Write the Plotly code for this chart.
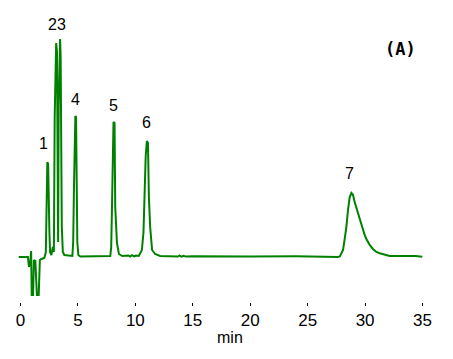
import plotly.graph_objects as go

# Chromatogram trace (time in min, signal in arbitrary units)
time_min = [
    -0.15, 0.65, 0.74, 0.85, 0.93, 0.98, 1.10, 1.17, 1.30, 1.43, 1.59, 1.69, 1.82, 2.08,
    2.21, 2.28, 2.34, 2.41, 2.46, 2.52, 2.58, 2.69, 2.82, 2.91,
    2.98, 3.04, 3.11, 3.18, 3.23, 3.28, 3.33, 3.39, 3.45, 3.50, 3.55, 3.60, 3.69, 3.82,
    4.52, 4.59, 4.66, 4.73, 4.78, 4.84, 4.90, 4.95, 5.04, 5.21,
    7.82, 7.90, 7.96, 8.03, 8.10, 8.19, 8.25, 8.40, 8.57, 8.86,
    9.40, 9.55, 9.70, 9.90, 10.05, 10.30,
    10.57, 10.71, 10.81, 10.90, 11.00, 11.10, 11.18, 11.29, 11.46, 11.72, 12.16,
    13.70, 13.85, 14.00, 14.20, 14.40, 15.00, 17.00, 20.00, 24.00, 25.00, 27.62,
    27.80, 28.08, 28.23, 28.37, 28.51, 28.66, 28.81, 28.95, 29.09, 29.24, 29.38, 29.53,
    29.68, 29.82, 29.96, 30.11, 30.40, 30.68, 30.98, 31.27, 31.70, 32.14,
    34.39, 34.74, 34.98,
]
signal = [
    0, 0, -10, -6, 6, -38, -38, -3, -4, -38, -38, -3, -2, -1,
    5, 90, 95, 93, 30, 25, 5, 2, 10, 5,
    140, 200, 214, 205, 20, 15, 150, 210, 218, 200, 100, 30, 5, 2,
    1, 15, 70, 130, 141, 140, 70, 15, 2, 0.5,
    1, 10, 45, 100, 135, 134, 50, 14, 3, 1,
    1.5, 0.5, 1.8, 0.6, 1.5, 1,
    7, 25, 70, 100, 116, 114, 60, 30, 7, 3, 1,
    0.5, 1.5, 0.3, 1.2, 0.4, 0.8, 0.6, 0.5, 0.7, 0.3, 0,
    0.5, 7, 18.7, 30, 47, 60, 64, 62, 55, 49, 44, 37,
    32, 27, 22, 18, 12, 8, 5, 3.7, 2, 1,
    1, 0.3, 0.3,
]

peak_labels = ["1", "23", "4", "5", "6", "7"]
label_x = [2.04, 3.17, 4.78, 8.08, 10.94, 28.66]
label_y = [114, 233, 158, 152, 135, 84]

x_ticks = [0, 5, 10, 15, 20, 25, 30, 35]

fig = go.Figure()
fig.add_trace(go.Scatter(
    x=time_min, y=signal, mode="lines",
    line=dict(color="#008000", width=2),
    hoverinfo="skip", showlegend=False,
))

for txt, lx, ly in zip(peak_labels, label_x, label_y):
    fig.add_annotation(x=lx, y=ly, xref="x", yref="y", text=txt, showarrow=False,
                       font=dict(family="Liberation Sans", size=16, color="black"))

fig.add_annotation(x=33.06, y=208, xref="x", yref="y", text="<b>(A)</b>", showarrow=False,
                   font=dict(family="DejaVu Sans Mono", size=17, color="black"))

# axis title "min" (placed slightly right of centre as in the original)
fig.add_annotation(x=18.24, y=-0.123, xref="x", yref="paper", text="min", showarrow=False,
                   yanchor="middle",
                   font=dict(family="Liberation Sans", size=16, color="black"))

fig.update_layout(
    width=453, height=359,
    margin=dict(l=9, r=35, t=2, b=65),
    paper_bgcolor="white", plot_bgcolor="white",
    xaxis=dict(
        range=[-0.3, 35.3], tickvals=x_ticks, ticktext=[str(v) for v in x_ticks],
        showgrid=False, zeroline=False, showline=False,
        ticks="outside", ticklen=3, tickcolor="black", tickwidth=1,
        tickfont=dict(family="Liberation Sans", size=17, color="black"),
    ),
    yaxis=dict(range=[-45, 247], visible=False),
)

fig.write_html("out.html")
